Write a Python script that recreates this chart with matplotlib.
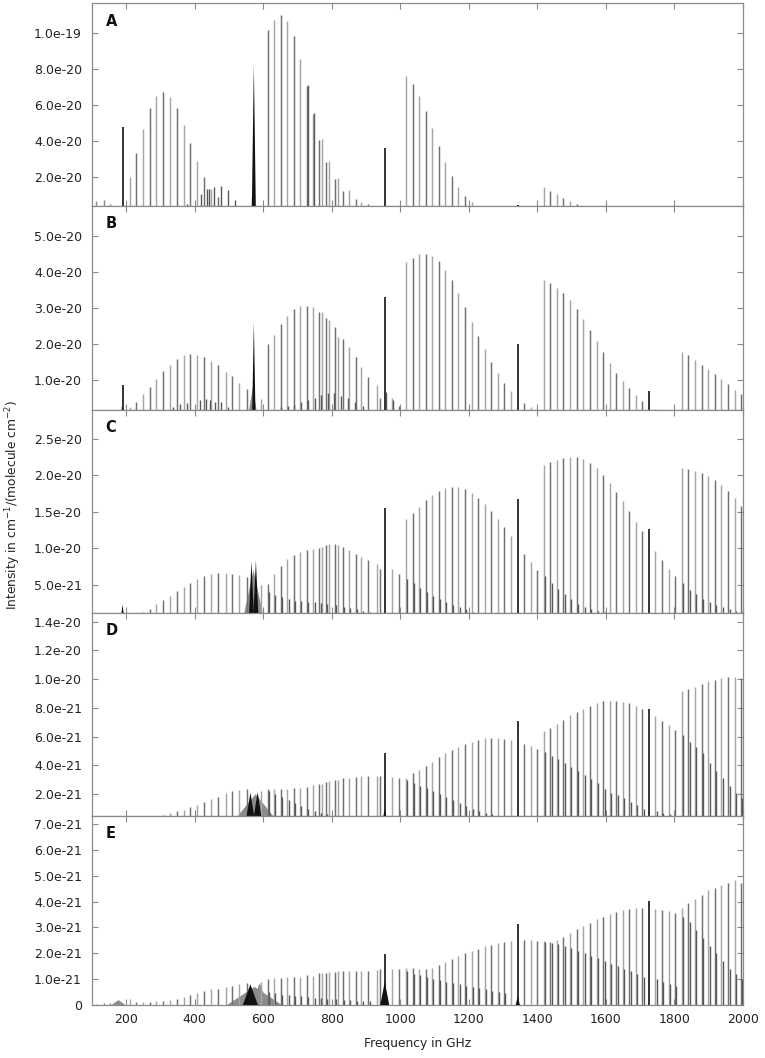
import matplotlib
matplotlib.use("Agg")
import matplotlib.pyplot as plt
import numpy as np
from matplotlib.ticker import FuncFormatter

# line positions in GHz, shared by all panels
low_freq = [114, 135, 153, 172]
g1_freq = [211, 230, 250, 269, 288, 308, 327, 348, 368, 388, 408, 427, 448, 469, 491, 510, 531, 552]
g2_freq = [593, 613, 632, 651, 671, 690, 708, 727, 746, 764, 771, 783, 793, 809, 819, 832, 850, 871,
           887, 907, 931, 941, 975, 997]
g3_freq = [1017, 1036, 1055, 1074, 1092, 1112, 1131, 1150, 1170, 1188, 1209, 1226, 1247, 1265, 1285,
           1303, 1322, 1362, 1381, 1400]
g4_freq = [1419, 1438, 1456, 1476, 1495, 1515, 1534, 1554, 1573, 1592, 1611, 1630, 1649, 1668, 1688,
           1706, 1744, 1764, 1783, 1802]
g5_freq = [1822, 1840, 1860, 1879, 1899, 1918, 1937, 1957, 1976, 1994]
black_freq = [190, 955, 1343, 1726]
# weaker continuation of each band under the next one (panels C-E)
tail_freq = [617, 636, 655, 675, 694, 712, 731, 750, 768, 787, 813, 836, 854, 875, 891, 911,
             1021, 1040, 1059, 1078, 1096, 1116, 1135, 1154, 1174, 1192, 1213, 1230, 1251, 1269, 1289, 1307,
             1423, 1442, 1460, 1480, 1499, 1519, 1538, 1558, 1577, 1596, 1615, 1634, 1653, 1672, 1692, 1710,
             1748, 1768, 1787, 1806,
             1826, 1844, 1864, 1883, 1903, 1922, 1941, 1961, 1980, 1998]

# panel A, units of 1e-20
A_unit = 1e-20
A_low = [0.65, 0.70, 0.50, 0.0]
A_g1 = [1.98, 3.33, 4.67, 5.81, 6.50, 6.72, 6.46, 5.81, 4.87, 3.87, 2.89, 2.02, 1.32, 0.87, 0, 0, 0, 0]
A_g2 = [0, 10.15, 10.72, 11.0, 10.69, 9.83, 8.54, 7.06, 5.50, 4.06, 4.11, 2.85, 2.89, 1.89, 1.93, 1.22,
        1.28, 0.78, 0.63, 0.50, 0, 0, 0, 0]
A_g3 = [7.61, 7.15, 6.50, 5.65, 4.72, 3.74, 2.82, 2.04, 1.43, 0.93, 0.59, 0, 0, 0, 0, 0, 0, 0, 0, 0]
A_g4 = [1.43, 1.24, 1.06, 0.85, 0.67, 0.50, 0, 0, 0, 0, 0, 0, 0, 0, 0, 0, 0, 0, 0, 0]
A_g5 = [0] * 10
A_black = [4.76, 3.59, 0.45, 0]
A_extra_freq = [379, 418, 437, 443, 457, 478, 497, 519, 567, 730, 749]
A_extra = [0.50, 1.06, 1.31, 1.31, 1.46, 1.52, 1.28, 0.72, 0.91, 7.11, 5.54]
A_gray_peaks = []
A_black_peaks = [(573, 8.28, 6)]

# panel B, units of 1e-20
B_unit = 1e-20
B_g1 = [0.25, 0.41, 0.61, 0.82, 1.05, 1.25, 1.44, 1.60, 1.69, 1.72, 1.71, 1.65, 1.54, 1.42, 1.23, 1.11,
        0.93, 0.75]
B_g2 = [0.48, 2.01, 2.27, 2.55, 2.79, 2.97, 3.06, 3.07, 3.02, 2.90, 2.90, 2.73, 2.68, 2.48, 2.20, 2.16,
        1.93, 1.65, 1.37, 1.09, 0.86, 0.52, 0.52, 0.30]
B_g3 = [4.29, 4.38, 4.49, 4.51, 4.44, 4.30, 4.07, 3.77, 3.41, 3.04, 2.63, 2.24, 1.86, 1.52, 1.21, 0.94,
        0.72, 0.38, 0.25, 0]
B_g4 = [3.78, 3.69, 3.56, 3.41, 3.22, 2.97, 2.70, 2.39, 2.08, 1.79, 1.49, 1.21, 0.98, 0.78, 0.60, 0.44,
        0.20, 0, 0, 0]
B_g5 = [1.79, 1.69, 1.57, 1.44, 1.31, 1.19, 1.03, 0.89, 0.74, 0.63]
B_black = [0.86, 3.31, 2.02, 0.70]
B_extra_freq = [338, 357, 377, 416, 433, 445, 460, 478, 497, 653, 674, 691, 710, 731, 750, 770, 789,
                808, 828, 847, 867, 891, 958, 979]
B_extra = [0.26, 0.35, 0.38, 0.46, 0.48, 0.46, 0.41, 0.40, 0.26, 0.25, 0.30, 0.33, 0.40, 0.46, 0.50,
           0.60, 0.64, 0.65, 0.56, 0.50, 0.40, 0.30, 0.68, 0.45]
B_gray_peaks = [(570, 0.80, 14), (188, 0.30, 6)]
B_black_peaks = [(573, 2.62, 5)]

# panel C, units of 1e-21
C_unit = 1e-21
C_g1 = [0.8, 1.0, 1.31, 1.68, 2.37, 2.83, 3.42, 4.07, 4.66, 5.21, 5.81, 6.18, 6.46, 6.59, 6.59, 6.50,
        6.30, 6.00]
C_g2 = [4.90, 5.13, 6.50, 7.56, 8.48, 9.03, 9.49, 9.72, 9.85, 10.08, 10.20, 10.40, 10.50, 10.50, 10.40,
        10.17, 9.70, 9.26, 8.80, 8.43, 7.80, 7.19, 7.10, 6.41]
C_g3 = [13.98, 14.77, 15.68, 16.60, 17.29, 17.89, 18.21, 18.35, 18.33, 18.07, 17.52, 16.83, 16.00,
        15.04, 13.98, 12.84, 11.64, 9.26, 8.16, 7.06]
C_g4 = [21.33, 21.74, 22.10, 22.34, 22.48, 22.45, 22.20, 21.65, 20.96, 20.04, 18.99, 17.75, 16.46,
        15.09, 13.62, 12.29, 9.58, 8.34, 7.19, 6.13]
C_g5 = [21.05, 20.83, 20.64, 20.36, 19.95, 19.35, 18.67, 17.88, 16.83, 15.77]
C_black = [0, 15.45, 16.74, 12.61]
C_tail = [4.0, 3.6, 3.3, 3.0, 2.8, 2.7, 2.6, 2.6, 2.5, 2.4, 2.2, 2.0, 1.8, 1.6, 1.4, 1.3,
          5.8, 5.2, 4.6, 4.0, 3.5, 3.0, 2.6, 2.2, 1.9, 1.6, 1.3, 1.1, 0.9, 0.8, 0.7, 0.6,
          6.13, 5.21, 4.43, 3.7, 3.0, 2.4, 2.0, 1.7, 1.4, 1.2, 1.0, 0.8, 0.7, 0.6, 0.5, 0.4,
          0.3, 0.3, 0.2, 0.2,
          5.2, 4.3, 3.7, 3.0, 2.6, 2.2, 1.9, 1.6, 1.4, 1.2]
C_gray_peaks = [(572, 7.0, 32)]
C_black_peaks = [(566, 8.20, 8), (579, 8.34, 8), (190, 2.27, 6)]

# panel D, units of 1e-21
D_unit = 1e-21
D_g1 = [0.2, 0.25, 0.3, 0.4, 0.5, 0.55, 0.67, 0.83, 0.90, 1.09, 1.25, 1.48, 1.67, 1.83, 2.06, 2.22,
        2.30, 2.35]
D_g2 = [2.20, 2.34, 2.34, 2.36, 2.37, 2.41, 2.45, 2.50, 2.64, 2.70, 2.72, 2.87, 2.90, 2.95, 3.00, 3.10,
        3.15, 3.20, 3.25, 3.27, 3.27, 3.25, 3.22, 3.15]
D_g3 = [3.10, 3.50, 3.69, 3.97, 4.22, 4.57, 4.85, 5.08, 5.31, 5.50, 5.66, 5.78, 5.87, 5.89, 5.89, 5.85,
        5.78, 5.50, 5.36, 5.17]
D_g4 = [6.36, 6.59, 6.85, 7.15, 7.47, 7.70, 7.94, 8.15, 8.31, 8.45, 8.47, 8.45, 8.40, 8.31, 8.15, 7.90,
        7.40, 7.12, 6.78, 6.47]
D_g5 = [9.19, 9.31, 9.45, 9.63, 9.84, 9.96, 10.05, 10.12, 10.15, 10.08]
D_black = [0, 4.89, 7.12, 7.91]
D_tail = [2.2, 2.0, 1.8, 1.6, 1.4, 1.2, 1.0, 0.85, 0.7, 0.6, 0.5, 0.4, 0.35, 0.3, 0.25, 0.2,
          3.0, 2.8, 2.6, 2.4, 2.2, 2.0, 1.8, 1.6, 1.4, 1.2, 1.0, 0.85, 0.7, 0.6, 0.5, 0.45,
          4.96, 4.68, 4.43, 4.15, 3.92, 3.64, 3.34, 3.04, 2.76, 2.34, 2.11, 1.95, 1.72, 1.48, 1.25, 1.0,
          0.8, 0.7, 0.6, 0.5,
          6.13, 5.66, 5.31, 4.89, 4.15, 3.6, 3.1, 2.6, 2.1, 1.7]
D_gray_peaks = [(578, 2.0, 68)]
D_black_peaks = [(563, 2.13, 14), (584, 2.15, 14), (955, 1.0, 8)]

# panel E, units of 1e-21
E_unit = 1e-21
E_low = [0.05, 0.06, 0.08, 0.10]
E_g1 = [0.25, 0.10, 0.12, 0.13, 0.15, 0.17, 0.19, 0.22, 0.32, 0.39, 0.48, 0.54, 0.60, 0.60, 0.71, 0.75,
        0.80, 0.85]
E_g2 = [0.90, 1.00, 1.03, 1.05, 1.09, 1.09, 1.10, 1.16, 1.14, 1.25, 1.22, 1.25, 1.27, 1.28, 1.30, 1.30,
        1.30, 1.31, 1.32, 1.33, 1.36, 1.39, 1.39, 1.39]
E_g3 = [1.42, 1.42, 1.41, 1.39, 1.42, 1.54, 1.65, 1.76, 1.89, 2.00, 2.10, 2.17, 2.28, 2.32, 2.38, 2.42,
        2.47, 2.51, 2.50, 2.49]
E_g4 = [2.47, 2.43, 2.51, 2.64, 2.79, 2.93, 3.06, 3.19, 3.32, 3.41, 3.51, 3.60, 3.67, 3.72, 3.75, 3.77,
        3.73, 3.69, 3.63, 3.56]
E_g5 = [3.77, 3.95, 4.09, 4.25, 4.44, 4.54, 4.66, 4.72, 4.83, 4.72]
E_black = [0, 1.96, 3.15, 4.02]
E_tail = [0.5, 0.45, 0.4, 0.38, 0.35, 0.33, 0.3, 0.28, 0.26, 0.25, 0.22, 0.2, 0.18, 0.16, 0.15, 0.14,
          1.3, 1.2, 1.15, 1.1, 1.0, 0.95, 0.9, 0.85, 0.8, 0.75, 0.7, 0.65, 0.6, 0.55, 0.5, 0.45,
          2.45, 2.4, 2.35, 2.3, 2.2, 2.1, 2.0, 1.9, 1.8, 1.7, 1.6, 1.5, 1.4, 1.3, 1.2, 1.1,
          1.0, 0.9, 0.8, 0.75,
          3.4, 3.2, 2.9, 2.6, 2.3, 2.0, 1.7, 1.4, 1.2, 1.0]
E_gray_peaks = [(575, 0.70, 80), (590, 0.84, 25), (178, 0.19, 20)]
E_black_peaks = [(563, 0.80, 22), (955, 0.90, 13), (1343, 0.35, 6)]

labels = ["A", "B", "C", "D", "E"]
ylims = [(3.9e-21, 1.167e-19), (1.94e-21, 5.83e-20), (1.18e-21, 2.9e-20), (0.48e-21, 1.463e-20), (0, 7.31e-21)]
yticks = [np.arange(1, 6) * 2e-20, np.arange(1, 6) * 1e-20, np.arange(1, 6) * 5e-21,
          np.arange(1, 8) * 2e-21, np.arange(0, 8) * 1e-21]

panels = [
    (A_unit, A_low, [A_g1, A_g2, A_g3, A_g4, A_g5], A_black, A_extra_freq, A_extra, A_gray_peaks, A_black_peaks),
    (B_unit, None, [B_g1, B_g2, B_g3, B_g4, B_g5], B_black, B_extra_freq, B_extra, B_gray_peaks, B_black_peaks),
    (C_unit, None, [C_g1, C_g2, C_g3, C_g4, C_g5], C_black, tail_freq, C_tail, C_gray_peaks, C_black_peaks),
    (D_unit, None, [D_g1, D_g2, D_g3, D_g4, D_g5], D_black, tail_freq, D_tail, D_gray_peaks, D_black_peaks),
    (E_unit, E_low, [E_g1, E_g2, E_g3, E_g4, E_g5], E_black, tail_freq, E_tail, E_gray_peaks, E_black_peaks),
]
group_freqs = [g1_freq, g2_freq, g3_freq, g4_freq, g5_freq]

W, H = 765, 1058
left_px, right_px = 91.7, 743
rows = [(3, 206), (206, 409.5), (409.5, 612.5), (612.5, 816), (816, 1005)]
shades = ["#a6a6a6", "#707070"]

fig = plt.figure(figsize=(W / 100, H / 100), dpi=100)

def fmt(v, pos):
    if abs(v) < 1e-30:
        return "0"
    return "%.1e" % v

for i, (unit, low, groups, blk, ex_f, ex_v, gpeaks, bpeaks) in enumerate(panels):
    top, bot = rows[i]
    ax = fig.add_axes([left_px / W, 1 - bot / H, (right_px - left_px) / W, (bot - top) / H])

    for c, h, w in gpeaks:
        ax.fill([c - w, c, c + w], [0, h * unit, 0], color="#8c8c8c", lw=0, zorder=1)

    for freqs, vals in zip(group_freqs, groups):
        cols = [shades[k % 2] for k in range(len(freqs))]
        ax.vlines(freqs, 0, np.array(vals) * unit, colors=cols, lw=1.05, zorder=2)
    if low is not None:
        ax.vlines(low_freq, 0, np.array(low) * unit, colors="#8a8a8a", lw=1.05, zorder=2)

    ax.vlines(ex_f, 0, np.array(ex_v) * unit, colors="#575757", lw=1.0, zorder=3)

    for c, h, w in bpeaks:
        ax.fill([c - w, c, c + w], [0, h * unit, 0], color="#111111", lw=0, zorder=4)
    ax.vlines(black_freq, 0, np.array(blk) * unit, colors="#111111", lw=1.2, zorder=5)

    ax.set_xlim(100, 2000)
    ax.set_ylim(*ylims[i])
    ax.set_xticks(range(200, 2001, 200))
    ax.set_yticks(yticks[i])
    ax.yaxis.set_major_formatter(FuncFormatter(fmt))
    ax.tick_params(direction="in", top=True, right=True, length=4.5, width=0.8,
                   color="#8a8a8a", labelsize=9, labelcolor="#222222")
    ax.tick_params(axis="y", pad=7)
    ax.tick_params(axis="x", pad=6)
    if i < 4:
        ax.tick_params(labelbottom=False)
    for sp in ax.spines.values():
        sp.set_color("#8a8a8a")
        sp.set_linewidth(0.9)

    ax.annotate(labels[i], xy=(0, 1), xycoords="axes fraction", xytext=(14, -18),
                textcoords="offset pixels", fontsize=10.5, fontweight="bold",
                ha="left", va="center", color="#111111")

fig.text(13 / W, 1 - 505 / H, "Intensity in cm$^{-1}$/(molecule cm$^{-2}$)", rotation=90,
         ha="center", va="center", fontsize=8.8, color="#222222")
fig.text((left_px + right_px) / 2 / W, 1 - 1043 / H, "Frequency in GHz",
         ha="center", va="center", fontsize=8.8, color="#222222")

fig.savefig("out.png", dpi=100)
